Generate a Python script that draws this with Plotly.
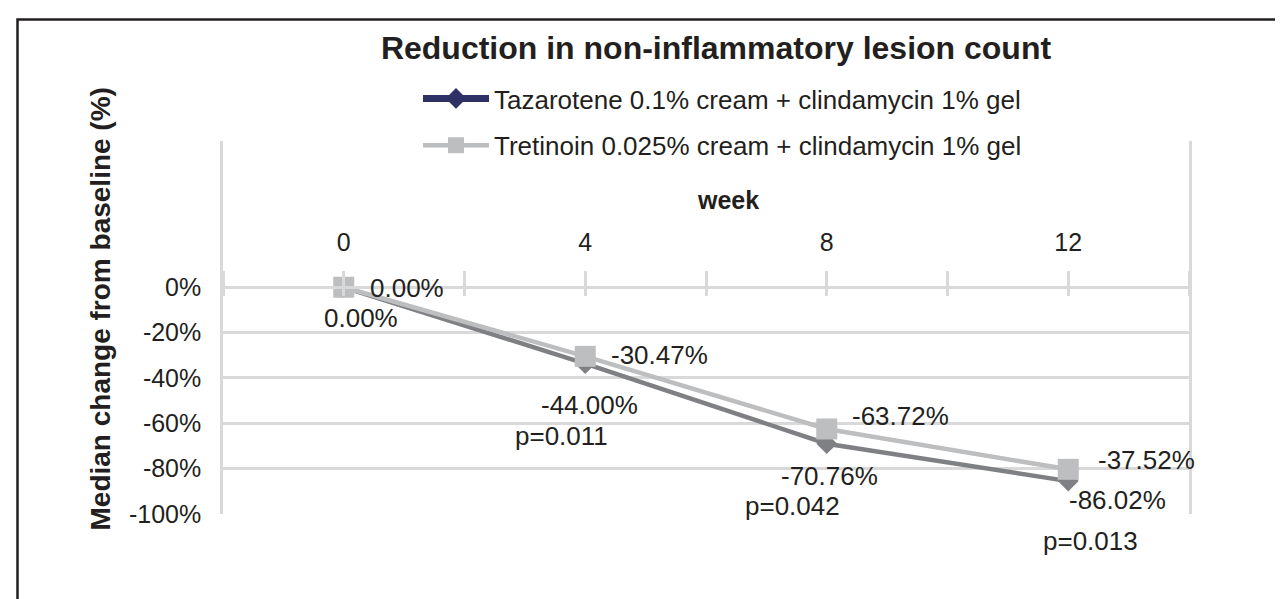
import plotly.graph_objects as go

# ---------------- data ----------------
weeks = [0, 4, 8, 12]
tazarotene = [0.0, -33.7, -69.0, -85.5]
tretinoin = [0.0, -30.47, -62.5, -80.3]
taz_labels = ["0.00%", "-44.00%", "-70.76%", "-86.02%"]
tre_labels = ["0.00%", "-30.47%", "-63.72%", "-37.52%"]
p_values = ["", "p=0.011", "p=0.042", "p=0.013"]
y_ticks = [0, -20, -40, -60, -80, -100]
y_ticktext = ["0%", "-20%", "-40%", "-60%", "-80%", "-100%"]
x_tickvals = [-2, 0, 2, 4, 6, 8, 10, 12, 14]

name_taz = "Tazarotene 0.1% cream + clindamycin 1% gel"
name_tre = "Tretinoin 0.025% cream + clindamycin 1% gel"

# ---------------- style ----------------
FONT = "Liberation Sans, Arial, Helvetica, sans-serif"
TXT = "#231f20"
GRID = "#d9d9d9"
C_TAZ = "#7f8083"
C_TAZ_LEG = "#2e3163"
C_TRE = "#bcbec0"

W, H = 1283, 599
L, R, T, B = 215, W - 1181, 133, H - 506
PW, PH = W - L - R, H - T - B

def px_x(px):
    return (px - L) / PW

def px_y(py):
    return (H - B - py) / PH

Y_MIN, Y_MAX = -100, 64.5
zero_pos = (0 - Y_MIN) / (Y_MAX - Y_MIN)

fig = go.Figure()

# legend-only entry (legend shows navy marker for tazarotene)
fig.add_trace(go.Scatter(
    x=[None], y=[None], name=name_taz, mode="lines+markers",
    line=dict(color=C_TAZ_LEG, width=7),
    marker=dict(symbol="diamond", size=16, color=C_TAZ_LEG),
    legendgroup="a", showlegend=True, hoverinfo="skip"))

fig.add_trace(go.Scatter(
    x=weeks, y=tazarotene, name=name_taz, mode="lines+markers",
    line=dict(color=C_TAZ, width=4.5),
    marker=dict(symbol="diamond", size=16, color=C_TAZ),
    showlegend=False, cliponaxis=False))

fig.add_trace(go.Scatter(
    x=weeks, y=tretinoin, name=name_tre, mode="lines+markers",
    line=dict(color=C_TRE, width=4.5),
    marker=dict(symbol="square", size=21, color=C_TRE),
    legendgroup="b", showlegend=True, cliponaxis=False))

# second x axis only to draw the lower half of the cross tick marks
fig.add_trace(go.Scatter(x=[None], y=[None], xaxis="x2", showlegend=False,
                         hoverinfo="skip"))

LBL = 26
annotations = []
tre_off = [(24, -1), (24, 1), (23, 13), (28, 9)]
for w, v, t, (dx, dy) in zip(weeks, tretinoin, tre_labels, tre_off):
    annotations.append(dict(x=w, y=v, xref="x", yref="y", text=t, showarrow=False,
                            xanchor="left", yanchor="middle", xshift=dx, yshift=dy,
                            font=dict(size=LBL, color=TXT, family=FONT)))
taz_off = [(17.5, -31), (4, -41), (3, -32), (49, -19)]
for w, v, t, (dx, dy) in zip(weeks, tazarotene, taz_labels, taz_off):
    annotations.append(dict(x=w, y=v, xref="x", yref="y", text=t, showarrow=False,
                            xanchor="center", yanchor="middle", xshift=dx, yshift=dy,
                            font=dict(size=LBL, color=TXT, family=FONT)))
p_off = [(0, 0), (-24, -72), (-34, -62), (22, -60)]
for w, v, t, (dx, dy) in zip(weeks, tazarotene, p_values, p_off):
    if t:
        annotations.append(dict(x=w, y=v, xref="x", yref="y", text=t, showarrow=False,
                                xanchor="center", yanchor="middle", xshift=dx, yshift=dy,
                                font=dict(size=LBL, color=TXT, family=FONT)))

# axis titles
annotations.append(dict(x=px_x(720), y=px_y(192), xref="paper", yref="paper",
                        text="week", showarrow=False, xanchor="center", yanchor="middle",
                        font=dict(size=25, color=TXT, family=FONT, weight="bold")))
annotations.append(dict(x=px_x(92), y=px_y(301.5), xref="paper", yref="paper",
                        text="Median change from baseline (%)", showarrow=False,
                        textangle=-90, xanchor="center", yanchor="middle",
                        font=dict(size=28, color=TXT, family=FONT, weight="bold")))

shapes = [dict(type="rect", xref="paper", yref="paper",
               x0=px_x(9.5), x1=px_x(1300), y0=px_y(620), y1=px_y(11.5),
               line=dict(color=TXT, width=2.5), fillcolor="rgba(0,0,0,0)", layer="above")]

x_ticktext = [str(v) if v in weeks else "" for v in x_tickvals]

fig.update_layout(
    width=W, height=H,
    margin=dict(l=L, r=R, t=T, b=B, autoexpand=False),
    paper_bgcolor="white", plot_bgcolor="white",
    font=dict(family=FONT, color=TXT, size=25),
    title=dict(text="Reduction in non-inflammatory lesion count",
               x=708 / W, xanchor="center", y=1 - 40 / H, yanchor="middle",
               xref="container", yref="container",
               font=dict(size=32, color=TXT, family=FONT, weight="bold")),
    legend=dict(x=px_x(410), y=px_y(67), xanchor="left", yanchor="top",
                font=dict(size=26, color=TXT, family=FONT),
                bgcolor="rgba(0,0,0,0)", itemwidth=66, traceorder="grouped",
                tracegroupgap=10),
    xaxis=dict(range=[-2, 14], tickmode="array", tickvals=x_tickvals,
               ticktext=x_ticktext, side="top", anchor="free", position=zero_pos,
               showline=True, linecolor=GRID, linewidth=2.5,
               ticks="outside", ticklen=16, tickwidth=2.5, tickcolor=GRID,
               ticklabelstandoff=10, showgrid=False, zeroline=False,
               tickfont=dict(size=25, color=TXT, family=FONT)),
    xaxis2=dict(range=[-2, 14], overlaying="x", matches="x", tickmode="array",
                tickvals=x_tickvals, side="bottom", anchor="free", position=zero_pos,
                showline=False, ticks="outside", ticklen=8, tickwidth=2.5,
                tickcolor=GRID, showticklabels=False, showgrid=False, zeroline=False),
    yaxis=dict(range=[Y_MIN, Y_MAX], tickmode="array", tickvals=y_ticks,
               ticktext=y_ticktext, showgrid=True, gridcolor=GRID, gridwidth=2.5,
               showline=True, mirror=True, linecolor=GRID, linewidth=2.5,
               zeroline=False, ticks="", ticklabelstandoff=14,
               tickfont=dict(size=25, color=TXT, family=FONT)),
    annotations=annotations,
    shapes=shapes,
)

fig.write_html("out.html")
